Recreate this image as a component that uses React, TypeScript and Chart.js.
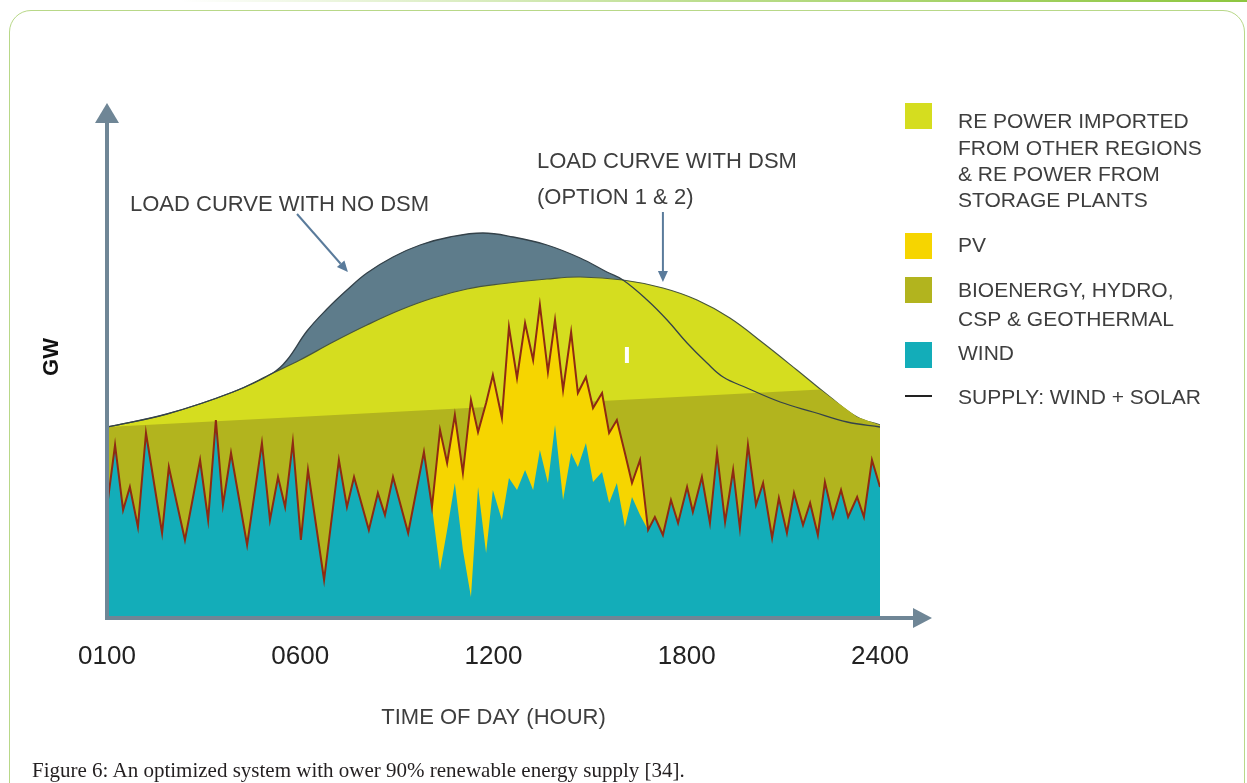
import React, { useEffect, useRef } from "react";
import { Chart, registerables } from "chart.js";

Chart.register(...registerables);

// ---------------- DATA ----------------
const TICK_HOURS = [0, 6, 12, 18, 24];
const TICK_LABELS = ["0100", "0600", "1200", "1800", "2400"];

// common grid for wind / supply (hour position along the axis)
const SUPPLY_HOURS = [
  0.0, 0.25, 0.5, 0.71, 0.96, 1.21, 1.71, 1.92, 2.42, 2.89,
  3.14, 3.38, 3.6, 3.85, 4.35, 4.81, 5.06, 5.31, 5.53, 5.77,
  6.02, 6.24, 6.74, 7.2, 7.45, 7.67, 8.13, 8.41, 8.63, 8.88,
  9.35, 9.84, 10.09, 10.34, 10.56, 10.8, 11.05, 11.3, 11.52, 11.77,
  11.98, 12.26, 12.48, 12.73, 12.98, 13.23, 13.44, 13.69, 13.91, 14.16,
  14.41, 14.62, 14.87, 15.09, 15.37, 15.59, 15.83, 16.08, 16.3, 16.55,
  16.8, 17.01, 17.26, 17.51, 17.73, 18.01, 18.19, 18.47, 18.72, 18.94,
  19.19, 19.44, 19.65, 19.9, 20.15, 20.37, 20.65, 20.86, 21.11, 21.33,
  21.61, 21.83, 22.07, 22.29, 22.54, 22.79, 23.01, 23.29, 23.5, 23.75,
  24.0,
];

const WIND_GW = [
  22.0, 34.4, 21.4, 26.0, 18.0, 36.8, 16.8, 30.0, 15.4, 31.4,
  19.4, 39.4, 22.4, 32.8, 14.4, 34.8, 19.4, 28.0, 22.0, 35.0,
  15.4, 29.4, 7.4, 31.4, 22.0, 28.0, 17.4, 24.8, 20.4, 28.0,
  16.8, 33.0, 22.0, 9.4, 17.4, 26.8, 13.4, 4.0, 26.0, 12.8,
  25.4, 19.4, 27.8, 25.4, 29.4, 25.4, 33.4, 26.8, 38.4, 23.4,
  32.8, 30.0, 34.8, 27.0, 29.0, 22.8, 26.8, 18.0, 24.0, 20.4,
  17.4, 20.0, 16.4, 23.4, 18.8, 26.0, 21.0, 28.0, 18.8, 32.8,
  19.0, 29.4, 17.8, 34.4, 22.4, 26.8, 15.8, 23.8, 16.8, 24.8,
  18.4, 22.8, 16.4, 27.0, 20.0, 25.4, 20.0, 24.0, 20.0, 31.4,
  26.0,
];

// wind + solar supply
const SUPPLY_GW = [
  22.0, 34.4, 21.4, 26.0, 18.0, 36.8, 16.8, 30.0, 15.4, 31.4,
  19.4, 39.4, 22.4, 32.8, 14.4, 34.8, 19.4, 28.0, 22.0, 35.0,
  15.4, 29.4, 7.4, 31.4, 22.0, 28.0, 17.4, 24.8, 20.4, 28.0,
  16.8, 33.0, 22.0, 37.4, 30.8, 40.4, 28.8, 43.4, 37.0, 42.8,
  48.4, 39.8, 58.0, 47.8, 58.8, 51.4, 62.4, 49.0, 59.4, 45.4,
  57.0, 44.8, 48.0, 41.8, 44.8, 36.8, 39.4, 32.8, 26.8, 31.4,
  17.4, 20.0, 16.4, 23.4, 18.8, 26.0, 21.0, 28.0, 18.8, 32.8,
  19.0, 29.4, 17.8, 34.4, 22.4, 26.8, 15.8, 23.8, 16.8, 24.8,
  18.4, 22.8, 16.4, 27.0, 20.0, 25.4, 20.0, 24.0, 20.0, 31.4,
  26.0,
];

const NO_DSM_HOURS = [
  0, 1.86, 3.91, 5.15, 5.59, 6.21, 6.83, 7.45, 8.07, 8.88,
  9.72, 10.65, 11.67, 12.61, 13.66, 14.69, 15.52, 16.02, 16.77, 17.39,
  18.01, 18.63, 19.13, 19.87, 20.9, 21.92, 22.98, 24,
];
const LOAD_NO_DSM_GW = [
  38, 40.6, 45, 48.8, 51.4, 57.2, 61.6, 65.4, 68.8, 72,
  74.4, 76, 76.8, 76, 74.4, 71.8, 69, 67.4, 63.4, 59.4,
  54.8, 50.8, 48, 45.8, 43, 41, 39, 38,
];

const DSM_HOURS = [
  0, 1.86, 3.91, 5.15, 5.99, 7.02, 8.07, 9.1, 10.12, 11.18,
  12.2, 13.66, 14.69, 16.02, 17.26, 18.32, 19.34, 20.37, 21.42, 22.45,
  23.29, 24,
];
const LOAD_DSM_GW = [
  38, 40.6, 45, 48.8, 51.4, 55, 58.4, 61.4, 63.8, 65.6,
  66.6, 67.6, 68, 67.4, 65.8, 63.4, 59.8, 54.8, 49.4, 44,
  40, 38.4,
];

const BIO_HOURS = [0, 22.14, 22.45, 23.29, 24];
const BIO_TOP_GW = [38, 45.5, 44, 40, 38.4];

const LEGEND_LABELS: string[][] = [
  ["RE POWER IMPORTED", "FROM OTHER REGIONS", "& RE POWER FROM", "STORAGE PLANTS"],
  ["PV"],
  ["BIOENERGY, HYDRO,", "CSP & GEOTHERMAL"],
  ["WIND"],
  ["SUPPLY: WIND + SOLAR"],
];

const C_SLATE = "#5e7c8b";
const C_IMPORT = "#d5dd1f";
const C_BIO = "#b2b41e";
const C_PV = "#f6d500";
const C_WIND = "#13adb9";
const C_SUPPLY = "#8e2a12";
const C_AXIS = "#6f8696";
const C_NOTE = "#5a7b9b";
const TEXT = "#3e3e3e";

const pts = (xs: number[], ys: number[]) => xs.map((x, i) => ({ x, y: ys[i] }));

function arrow(ctx: CanvasRenderingContext2D, x1: number, y1: number, x2: number, y2: number, color: string, width: number, headLen: number, headHalf: number) {
  const a = Math.atan2(y2 - y1, x2 - x1);
  const bx = x2 - headLen * Math.cos(a);
  const by = y2 - headLen * Math.sin(a);
  ctx.strokeStyle = color;
  ctx.fillStyle = color;
  ctx.lineWidth = width;
  ctx.beginPath();
  ctx.moveTo(x1, y1);
  ctx.lineTo(bx, by);
  ctx.stroke();
  ctx.beginPath();
  ctx.moveTo(x2, y2);
  ctx.lineTo(bx + headHalf * Math.sin(a), by - headHalf * Math.cos(a));
  ctx.lineTo(bx - headHalf * Math.sin(a), by + headHalf * Math.cos(a));
  ctx.closePath();
  ctx.fill();
}

const decorPlugin = {
  id: "decor",
  afterDatasetsDraw(chart: any) {
    const { ctx, chartArea, scales } = chart;
    const xs = scales.x;
    const ys = scales.y;
    ctx.save();

    // small white mark inside the import area
    ctx.fillStyle = "#ffffff";
    ctx.fillRect(xs.getPixelForValue(16.08), ys.getPixelForValue(54), 4, 16);

    // axes with arrow heads
    const x0 = xs.getPixelForValue(0);
    const y0 = ys.getPixelForValue(0) + 1;
    ctx.lineCap = "butt";
    arrow(ctx, x0, y0 + 2, x0, chartArea.top + 6, C_AXIS, 4, 20, 12);
    arrow(ctx, x0 - 2, y0, xs.getPixelForValue(24) + 52, y0, C_AXIS, 4, 19, 10);

    // annotations
    ctx.font = '22px "Liberation Sans", Arial, sans-serif';
    ctx.fillStyle = TEXT;
    ctx.textBaseline = "alphabetic";
    ctx.textAlign = "left";
    ctx.fillText("LOAD CURVE WITH NO DSM", 130, 211);
    ctx.fillText("LOAD CURVE WITH DSM", 537, 168);
    ctx.fillText("(OPTION 1 & 2)", 537, 204);
    arrow(ctx, xs.getPixelForValue(5.9), ys.getPixelForValue(80.6), xs.getPixelForValue(7.48), ys.getPixelForValue(69), C_NOTE, 2, 11, 5);
    arrow(ctx, xs.getPixelForValue(17.26), ys.getPixelForValue(81), xs.getPixelForValue(17.26), ys.getPixelForValue(67), C_NOTE, 2, 11, 5);

    // legend
    const ds = chart.data.datasets;
    const swatchColors = [ds[1].backgroundColor, ds[3].backgroundColor, ds[2].backgroundColor, ds[4].backgroundColor];
    const boxTops = [103, 233, 277, 342];
    const baselines = [[128, 155, 181, 207], [252], [297, 326], [360], [404]];
    const sx = 905;
    const tx = 958;
    boxTops.forEach((t, i) => {
      ctx.fillStyle = swatchColors[i];
      ctx.fillRect(sx, t, 27, 26);
    });
    ctx.fillStyle = "#222";
    ctx.fillRect(sx, 395, 27, 2);
    ctx.font = '21px "Liberation Sans", Arial, sans-serif';
    ctx.fillStyle = TEXT;
    LEGEND_LABELS.forEach((lines, i) => {
      lines.forEach((line, j) => ctx.fillText(line, tx, baselines[i][j]));
    });
    ctx.restore();
  },
};

export default function App() {
  const ref = useRef<HTMLCanvasElement>(null);
  useEffect(() => {
    const chart = new Chart(ref.current as HTMLCanvasElement, {
      type: "line",
      data: {
        datasets: [
          {
            label: "Load curve with no DSM",
            data: pts(NO_DSM_HOURS, LOAD_NO_DSM_GW),
            backgroundColor: C_SLATE,
            borderColor: C_SLATE,
            borderWidth: 0,
            fill: "origin",
            tension: 0.4,
            pointRadius: 0,
            order: 9,
          },
          {
            label: "RE power imported & storage (load with DSM)",
            data: pts(DSM_HOURS, LOAD_DSM_GW),
            backgroundColor: C_IMPORT,
            borderColor: "#47553f",
            borderWidth: 1.2,
            fill: "origin",
            tension: 0.4,
            pointRadius: 0,
            order: 8,
          },
          {
            label: "Bioenergy, hydro, CSP & geothermal",
            data: pts(BIO_HOURS, BIO_TOP_GW),
            backgroundColor: C_BIO,
            borderWidth: 0,
            fill: "origin",
            tension: 0,
            pointRadius: 0,
            order: 7,
          },
          {
            label: "PV",
            data: pts(SUPPLY_HOURS, SUPPLY_GW),
            backgroundColor: C_PV,
            borderWidth: 0,
            fill: "origin",
            tension: 0,
            pointRadius: 0,
            order: 6,
          },
          {
            label: "Wind",
            data: pts(SUPPLY_HOURS, WIND_GW),
            backgroundColor: C_WIND,
            borderWidth: 0,
            fill: "origin",
            tension: 0,
            pointRadius: 0,
            order: 5,
          },
          {
            label: "Supply: wind + solar",
            data: pts(SUPPLY_HOURS, SUPPLY_GW),
            borderColor: C_SUPPLY,
            borderWidth: 2,
            borderJoinStyle: "miter",
            fill: false,
            tension: 0,
            pointRadius: 0,
            order: 4,
          },
          {
            label: "Load curve with no DSM (line)",
            data: pts(NO_DSM_HOURS, LOAD_NO_DSM_GW),
            borderColor: "#34424a",
            borderWidth: 1.3,
            fill: false,
            tension: 0.4,
            pointRadius: 0,
            order: 3,
          },
        ],
      },
      options: {
        responsive: false,
        animation: false,
        events: [],
        layout: { padding: { top: 97, left: 38.8, right: 367, bottom: 51.8 } },
        plugins: { legend: { display: false }, tooltip: { enabled: false } },
        scales: {
          x: {
            type: "linear",
            min: 0,
            max: 24,
            grid: { display: false, drawTicks: false },
            border: { display: false },
            afterBuildTicks: (scale: any) => {
              scale.ticks = TICK_HOURS.map((v) => ({ value: v }));
            },
            ticks: {
              autoSkip: false,
              maxRotation: 0,
              padding: 24.4,
              color: "#222",
              font: { family: '"Liberation Sans", Arial, sans-serif', size: 26 },
              callback: (v: any) => TICK_LABELS[TICK_HOURS.indexOf(Number(v))],
            },
            title: {
              display: true,
              text: "TIME OF DAY (HOUR)",
              color: TEXT,
              font: { family: '"Liberation Sans", Arial, sans-serif', size: 22 },
              padding: { top: 7.8, bottom: 0 },
            },
          },
          y: {
            min: 0,
            max: 104,
            grid: { display: false, drawTicks: false },
            border: { display: false },
            ticks: { display: false },
            title: {
              display: true,
              text: "GW",
              color: "#111",
              font: { family: '"Liberation Sans", Arial, sans-serif', size: 22, weight: "bold" },
              padding: { top: 0, bottom: 41.8 },
            },
          },
        },
      },
      plugins: [decorPlugin],
    } as any);
    return () => chart.destroy();
  }, []);

  return (
    <div style={{ position: "absolute", left: 0, top: 0, width: 1247, height: 783, overflow: "hidden", background: "#fff" }}>
      <div
        style={{
          position: "absolute",
          left: 180,
          right: 0,
          top: 0,
          height: 2,
          background: "linear-gradient(to right, rgba(141,198,63,0), rgba(141,198,63,0.6) 50%, #8dc63f)",
        }}
      />
      <div
        style={{
          position: "absolute",
          left: 9,
          top: 10,
          width: 1236,
          height: 800,
          border: "1.5px solid #b8d888",
          borderRadius: 22,
          boxSizing: "border-box",
        }}
      />
      <canvas ref={ref} width={1247} height={783} style={{ position: "absolute", left: 0, top: 0 }} />
      <div
        style={{
          position: "absolute",
          left: 32,
          top: 760,
          font: '21px "Liberation Serif", "Times New Roman", serif',
          lineHeight: "21px",
          color: "#231f20",
          whiteSpace: "nowrap",
        }}
      >
        Figure 6: An optimized system with ower 90% renewable energy supply [34].
      </div>
    </div>
  );
}
